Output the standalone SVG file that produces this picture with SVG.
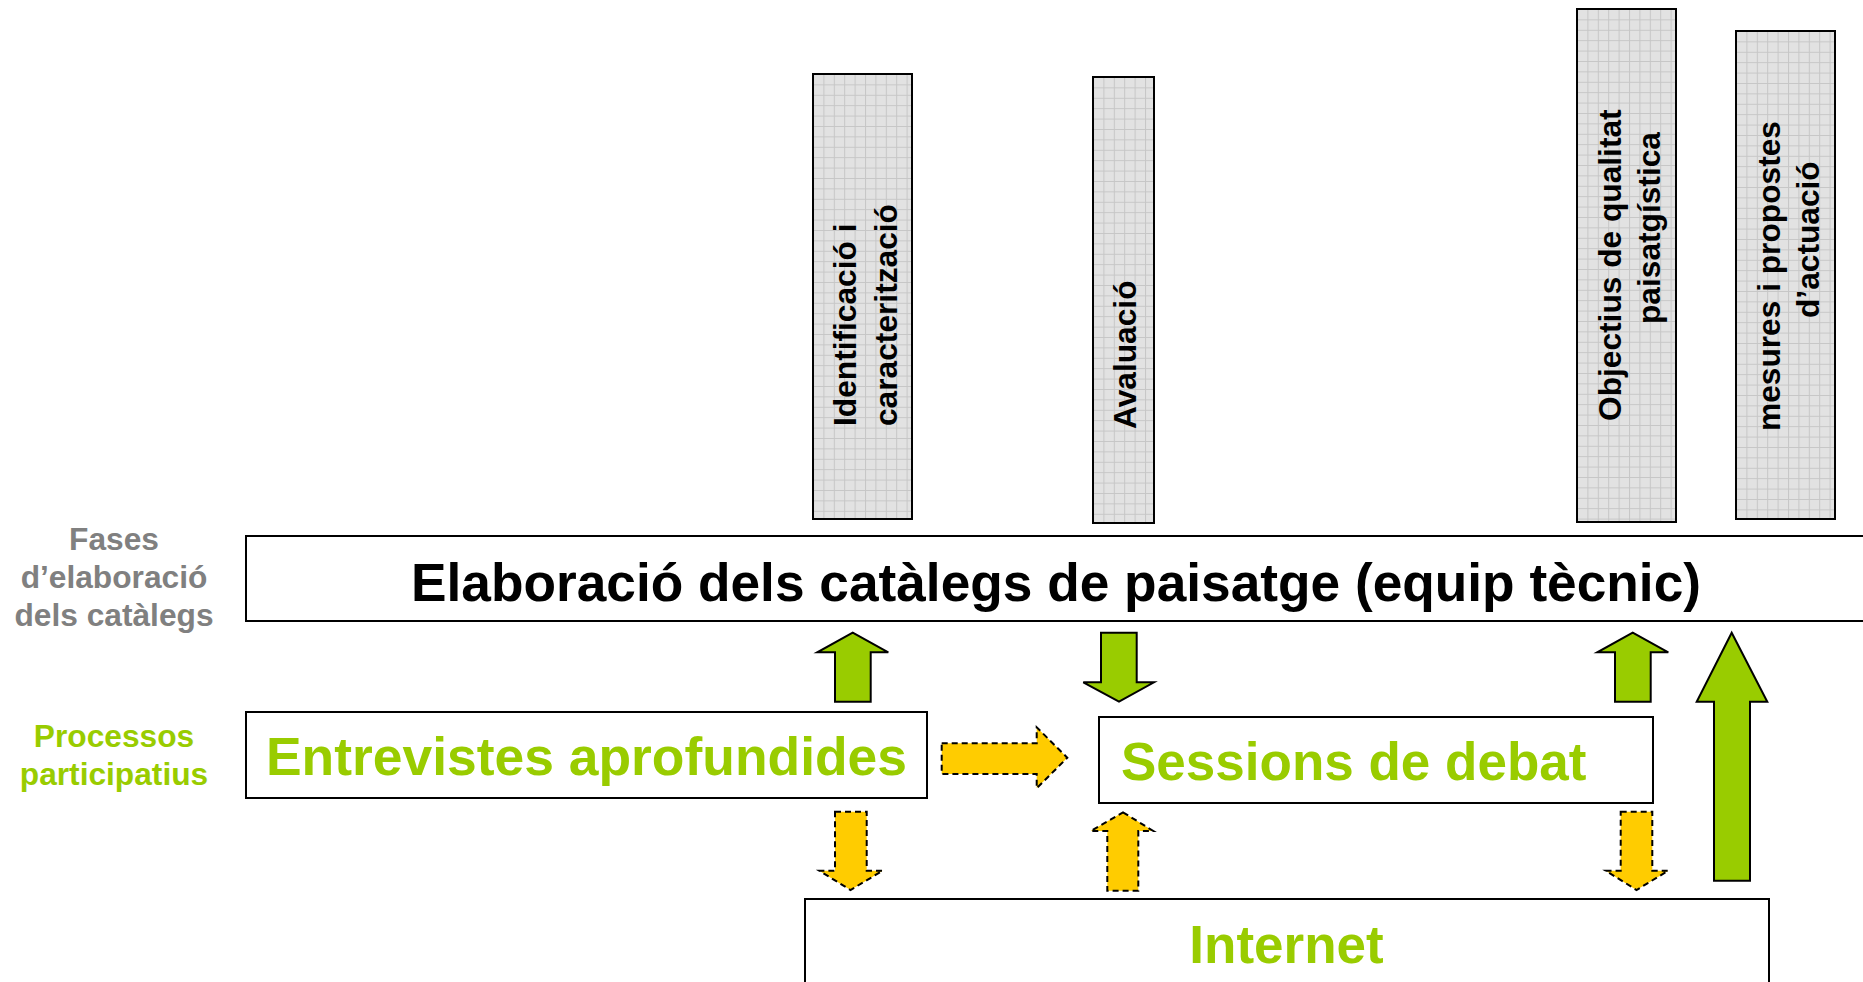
<svg xmlns="http://www.w3.org/2000/svg" width="1863" height="982" viewBox="0 0 1863 982">
<style>
.box{fill:#ffffff;stroke:#000000;stroke-width:2}
.vbox{stroke:#000000;stroke-width:2}
.vt{font-family:"Liberation Sans",Arial,sans-serif;font-weight:bold;font-size:31.7px;fill:#000000}
.lbl{font-family:"Liberation Sans",Arial,sans-serif;font-weight:bold;font-size:31.7px;text-anchor:middle}
.big{font-family:"Liberation Sans",Arial,sans-serif;font-weight:bold;font-size:53px}
.green{fill:#99cc00}
.garrow{fill:#99cc00;stroke:#000000;stroke-width:2;stroke-linejoin:miter}
.yarrow{fill:#ffcc00;stroke:#000000;stroke-width:2;stroke-dasharray:6,4}
</style>
<defs>
<g id="tile">
<rect width="10.4" height="10.4" fill="#e2e2e2"/>
<path d="M0,0.5H10.4M0.5,0V10.4" stroke="#c6c6c6" stroke-width="1" fill="none"/>
</g>
<pattern id="grid1" patternUnits="userSpaceOnUse" x="813" y="74" width="10.4" height="10.4"><use href="#tile"/></pattern>
<pattern id="grid2" patternUnits="userSpaceOnUse" x="1093" y="77" width="10.4" height="10.4"><use href="#tile"/></pattern>
<pattern id="grid3" patternUnits="userSpaceOnUse" x="1577" y="9" width="10.4" height="10.4"><use href="#tile"/></pattern>
<pattern id="grid4" patternUnits="userSpaceOnUse" x="1736" y="31" width="10.4" height="10.4"><use href="#tile"/></pattern>
</defs>
<rect width="1863" height="982" fill="#ffffff"/>

<g id="labels">
<text class="lbl" fill="#808080"><tspan x="114" y="550">Fases</tspan><tspan x="114" y="588">d’elaboració</tspan><tspan x="114" y="626">dels catàlegs</tspan></text>
<text class="lbl" fill="#99cc00"><tspan x="114" y="747">Processos</tspan><tspan x="114" y="785">participatius</tspan></text>
</g>

<g id="phase-identificacio">
<rect class="vbox" x="813" y="74" width="99" height="445" fill="url(#grid1)"/>
<text class="vt" transform="translate(856,426) rotate(-90)">Identificació i</text>
<text class="vt" transform="translate(897,426) rotate(-90)">caracterització</text>
</g>
<g id="phase-avaluacio">
<rect class="vbox" x="1093" y="77" width="61" height="446" fill="url(#grid2)"/>
<text class="vt" transform="translate(1136,429) rotate(-90)">Avaluació</text>
</g>
<g id="phase-objectius">
<rect class="vbox" x="1577" y="9" width="99" height="513" fill="url(#grid3)"/>
<text class="vt" font-size="32.2" transform="translate(1621,421) rotate(-90)">Objectius de qualitat</text>
<text class="vt" font-size="32.2" transform="translate(1660,324) rotate(-90)">paisatgística</text>
</g>
<g id="phase-mesures">
<rect class="vbox" x="1736" y="31" width="99" height="488" fill="url(#grid4)"/>
<text class="vt" font-size="32.2" transform="translate(1780,431) rotate(-90)">mesures i propostes</text>
<text class="vt" font-size="32.2" transform="translate(1819,318) rotate(-90)">d’actuació</text>
</g>

<g id="elaboracio">
<rect class="box" x="246" y="536" width="1640" height="85"/>
<text class="big" x="411" y="601" font-size="54" textLength="1290" lengthAdjust="spacingAndGlyphs" fill="#000000">Elaboració dels catàlegs de paisatge (equip tècnic)</text>
</g>
<g id="entrevistes">
<rect class="box" x="246" y="712" width="681" height="86"/>
<text class="big green" x="266" y="775" textLength="641" lengthAdjust="spacingAndGlyphs">Entrevistes aprofundides</text>
</g>
<g id="sessions">
<rect class="box" x="1099" y="717" width="554" height="86"/>
<text class="big green" x="1121" y="780" font-size="53.3">Sessions de debat</text>
</g>
<g id="internet">
<rect class="box" x="805" y="899" width="964" height="100"/>
<text class="big green" x="1286.5" y="963" text-anchor="middle">Internet</text>
</g>

<g id="connectors">
<polygon class="garrow" points="852.7,632.7 888.3,652.3 870.7,652.3 870.7,701.7 835,701.7 835,652.3 817.3,652.3"/>
<polygon class="garrow" points="1101,632.7 1136.7,632.7 1136.7,682.3 1154,682.3 1119,701.7 1083.3,682.3 1101,682.3"/>
<polygon class="garrow" points="1632.7,632.7 1668.3,652.3 1650.7,652.3 1650.7,701.7 1615,701.7 1615,652.3 1597.3,652.3"/>
<polygon class="garrow" points="1731.7,632.7 1767.3,701.7 1750,701.7 1750,880.7 1714,880.7 1714,701.7 1696.7,701.7"/>
<polygon class="yarrow" points="941.7,743.3 1036.7,743.3 1036.7,727.3 1067.3,757.7 1036.7,788.3 1036.7,774 941.7,774"/>
<polygon class="yarrow" points="835,811.7 866.7,811.7 866.7,870.7 882.7,870.7 850.5,890 819.3,870.7 835,870.7"/>
<polygon class="yarrow" points="1123,812.3 1153.3,831 1138.3,831 1138.3,890.7 1107.3,890.7 1107.3,831 1090.7,831"/>
<polygon class="yarrow" points="1620.7,811.7 1652.3,811.7 1652.3,870.7 1668.3,870.7 1636.5,890 1605.7,870.7 1620.7,870.7"/>
</g>
</svg>
